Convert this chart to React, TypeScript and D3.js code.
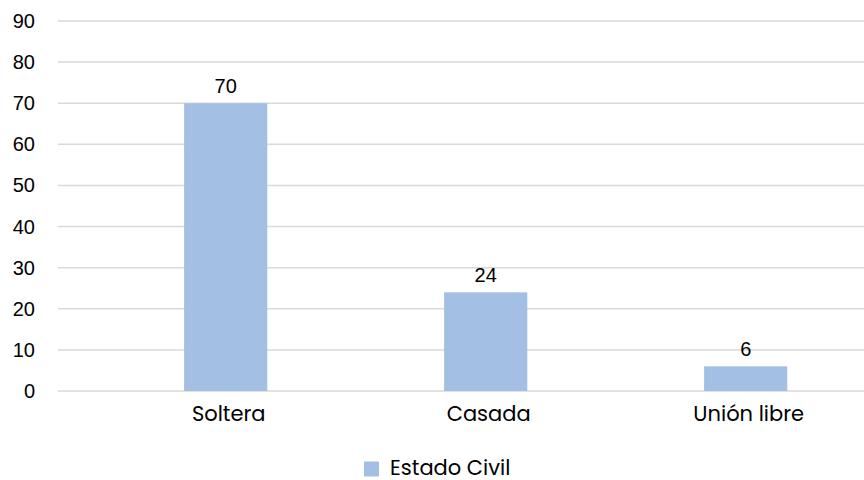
import React from "react";
import * as d3 from "d3";

const categories = ["Soltera", "Casada", "Unión libre"];
const values = [70, 24, 6];
const yTicks = [0, 10, 20, 30, 40, 50, 60, 70, 80, 90];
const seriesName = "Estado Civil";

const W = 864;
const H = 480;
const gridLeft = 58;
const gridRight = 864;
const barColor = "#a3bfe3";
const numFont = "'Liberation Sans', Arial, sans-serif";
const catFont = "Poppins, Lato, 'Open Sans', sans-serif";

export default function App() {
  const x = d3.scaleBand<string>().domain(categories).range([95.7, 875.7]).padding(0);
  const y = d3.scaleLinear().domain([0, 90]).range([391, 21]);
  const barW = x.bandwidth() * 0.32;

  return (
    <svg
      width={W}
      height={H}
      style={{ position: "absolute", left: 0, top: 0, background: "#fff" }}
    >
      {yTicks.map((t) => (
        <g key={t}>
          <line
            x1={gridLeft}
            x2={gridRight}
            y1={y(t)}
            y2={y(t)}
            stroke="#d9d9d9"
            strokeWidth={1.5}
          />
          <text
            x={35}
            y={y(t) + 7}
            textAnchor="end"
            fontFamily={numFont}
            fontSize={20}
            fill="#000"
          >
            {t}
          </text>
        </g>
      ))}
      {categories.map((c, i) => {
        const cx = (x(c) as number) + x.bandwidth() / 2;
        return (
          <g key={c}>
            <rect
              x={cx - barW / 2}
              y={y(values[i])}
              width={barW}
              height={y(0) - y(values[i])}
              fill={barColor}
            />
            <text
              x={cx}
              y={y(values[i]) - 10}
              textAnchor="middle"
              fontFamily={numFont}
              fontSize={20}
              fill="#000"
            >
              {values[i]}
            </text>
            <text
              x={cx + 3}
              y={420.5}
              textAnchor="middle"
              fontFamily={catFont}
              fontSize={21}
              fill="#000"
            >
              {c}
            </text>
          </g>
        );
      })}
      <rect x={364} y={461.5} width={15} height={15} fill={barColor} />
      <text x={390} y={474.5} fontFamily={catFont} fontSize={21} fill="#000">
        {seriesName}
      </text>
    </svg>
  );
}
